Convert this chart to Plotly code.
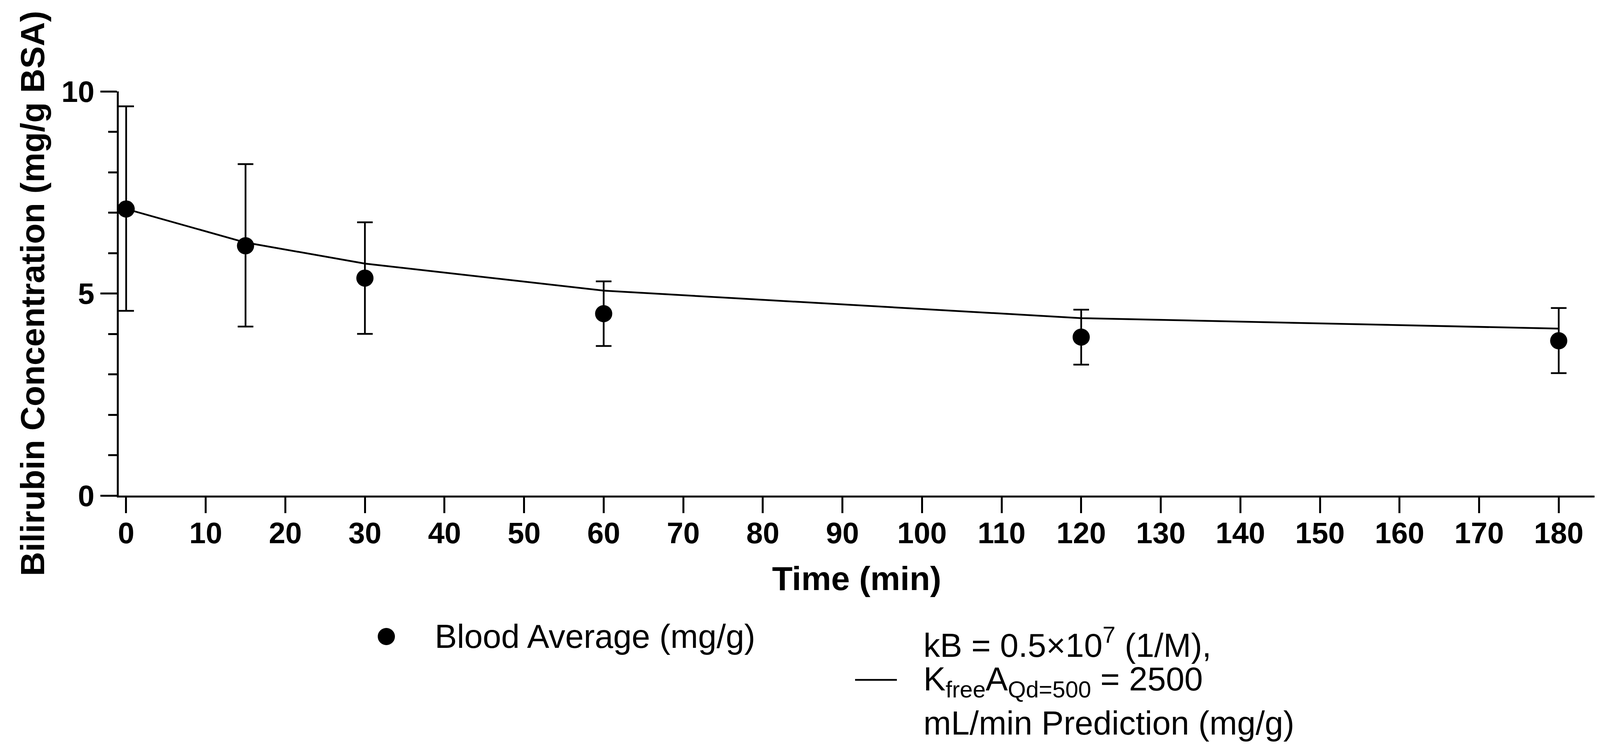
import plotly.graph_objects as go

# ---- data ----
time_min = [0, 15, 30, 60, 120, 180]
blood_mean = [7.09, 6.18, 5.38, 4.50, 3.92, 3.83]
blood_upper = [9.63, 8.20, 6.76, 5.30, 4.60, 4.64]
blood_lower = [4.57, 4.18, 4.00, 3.70, 3.24, 3.03]
pred_time = [0, 15, 30, 60, 120, 180]
pred_values = [7.09, 6.26, 5.74, 5.07, 4.39, 4.13]

x_ticks = list(range(0, 181, 10))
y_ticks = [0, 5, 10]

legend_blood = "Blood Average (mg/g)"
legend_pred_lines = [
    "kB = 0.5×10<sup>7</sup> (1/M),",
    "K<sub>free</sub>A<sub>Qd=500</sub> = 2500",
    "mL/min Prediction (mg/g)",
]

W, H = 4103, 1918
ML, MR, MT, MB = 296, 29, 226, 657
FONT = "Liberation Sans, Arial, Helvetica, sans-serif"

err_plus = [u - m for u, m in zip(blood_upper, blood_mean)]
err_minus = [m - l for m, l in zip(blood_mean, blood_lower)]

fig = go.Figure()
fig.add_trace(go.Scatter(
    x=pred_time, y=pred_values, mode="lines",
    line=dict(color="black", width=4.5),
    name="Prediction", showlegend=False,
))
fig.add_trace(go.Scatter(
    x=time_min, y=blood_mean, mode="markers",
    marker=dict(color="black", size=44, symbol="circle"),
    error_y=dict(type="data", array=err_plus, arrayminus=err_minus,
                 color="black", thickness=4.5, width=20),
    name=legend_blood, showlegend=False,
))

pw = W - ML - MR
ph = H - MT - MB


def px_x(p):
    return (p - ML) / pw


def px_y(p):
    return (H - MB - p) / ph


# ---- legend (manual keys + text) ----
shapes = []
cx, cy, r = 981, 1622, 22
shapes.append(dict(type="circle", xref="paper", yref="paper",
                   x0=px_x(cx - r), x1=px_x(cx + r), y0=px_y(cy + r), y1=px_y(cy - r),
                   fillcolor="black", line=dict(color="black", width=0)))
shapes.append(dict(type="line", xref="paper", yref="paper",
                   x0=px_x(2181), x1=px_x(2288), y0=px_y(1733), y1=px_y(1733),
                   line=dict(color="black", width=4.5)))

annotations = []
annotations.append(dict(text=legend_blood, xref="paper", yref="paper",
                        x=px_x(1103), y=px_y(1622), xanchor="left", yanchor="middle",
                        showarrow=False, font=dict(family=FONT, size=85, color="black")))
for txt, yc in zip(legend_pred_lines, [1638, 1737, 1843]):
    annotations.append(dict(text=txt, xref="paper", yref="paper",
                            x=px_x(2354), y=px_y(yc), xanchor="left", yanchor="middle",
                            align="left", showarrow=False,
                            font=dict(family=FONT, size=85, color="black")))

fig.update_layout(
    width=W, height=H,
    margin=dict(l=ML, r=MR, t=MT, b=MB, autoexpand=False),
    paper_bgcolor="white", plot_bgcolor="white",
    showlegend=False,
    font=dict(family=FONT, color="black"),
    shapes=shapes, annotations=annotations,
    xaxis=dict(
        range=[-0.93, 184.5], tickmode="array", tickvals=x_ticks,
        ticktext=[str(v) for v in x_ticks],
        showline=True, linecolor="black", linewidth=5,
        ticks="outside", ticklen=40, tickwidth=4.5, tickcolor="black",
        showgrid=False, zeroline=False,
        tickfont=dict(family=FONT, size=76, color="black", weight="bold"),
        ticklabelstandoff=-14,
        title=dict(text="<b>Time (min)</b>", font=dict(family=FONT, size=86, color="black"),
                   standoff=46),
        automargin=False,
    ),
    yaxis=dict(
        range=[0, 10], tickmode="array", tickvals=y_ticks,
        ticktext=[str(v) for v in y_ticks],
        showline=True, linecolor="black", linewidth=5,
        ticks="outside", ticklen=42, tickwidth=4.5, tickcolor="black",
        minor=dict(dtick=1, ticks="outside", ticklen=22, tickwidth=4.5, tickcolor="black",
                   showgrid=False),
        showgrid=False, zeroline=False,
        tickfont=dict(family=FONT, size=76, color="black", weight="bold"),
        ticklabelstandoff=0,
        title=dict(text="<b>Bilirubin Concentration (mg/g BSA)</b>",
                   font=dict(family=FONT, size=86, color="black"), standoff=17),
        automargin=False,
    ),
)

fig.write_html("out.html")
